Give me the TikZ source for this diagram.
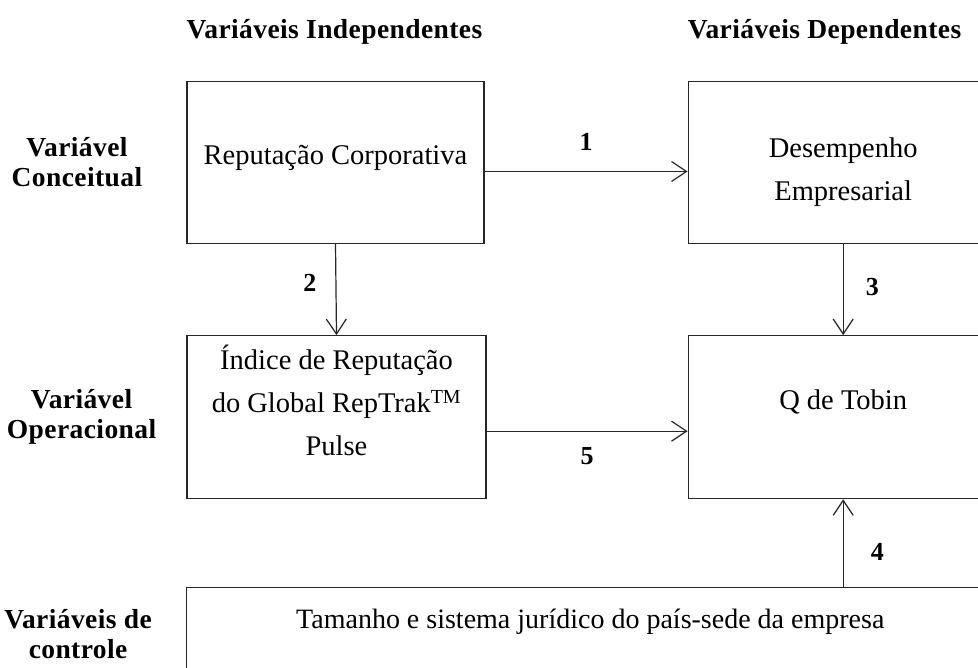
\documentclass[tikz,border=0pt]{standalone}
\usepackage{fontspec}
\setmainfont{Liberation Serif}
\usepackage{xcolor}
\usepackage{tikz}
\tikzstyle{block} = [rectangle, draw=black!85, line width=1.2pt, inner sep=0pt]
\tikzstyle{txt} = [align=center, inner sep=0pt, font=\fontsize{28.5}{43}\selectfont]
\tikzstyle{head} = [font=\bfseries\fontsize{27.5}{30}\selectfont\addfontfeature{LetterSpace=1.5}, align=center, inner sep=0pt]
\tikzstyle{num} = [font=\bfseries\fontsize{26}{31}\selectfont, inner sep=0pt]
\tikzstyle{arr} = [-{Straight Barb[length=15pt,width=20pt]}, draw=black!85, line width=1.2pt]
\usetikzlibrary{arrows.meta}
\usetikzlibrary{positioning}

\begin{document}
\begin{tikzpicture}[x=1pt,y=-1pt]
    \useasboundingbox (0,0) rectangle (978,668);

    \node[block, minimum width=297pt, minimum height=162pt,
      label={[txt, name=reptext, yshift=5pt]center:Reputação Corporativa}] (rep) at (335.5,162.5) {};
    \node[block, minimum width=310pt, minimum height=162pt, right=203pt of rep,
      label={[txt, name=desemptext, yshift=-10pt]center:Desempenho\\Empresarial}] (desemp) {};
    \node[block, minimum width=299pt, minimum height=163pt, below=91pt of rep.south west, anchor=north west,
      label={[txt, name=indicetext, yshift=17pt]center:Índice de Reputação\\do Global RepTrak\textsuperscript{TM}\\Pulse}] (indice) {};
    \node[block, minimum width=310pt, minimum height=163pt, below=91pt of desemp,
      label={[txt, name=tobintext, yshift=15pt]center:Q de Tobin}] (tobin) {};
    \node[block, minimum width=830pt, minimum height=110pt, anchor=north west] (controle) at (186,587) {};
    \node[txt, font=\fontsize{28}{43}\selectfont, anchor=west] (ctrltext) at ([xshift=110pt,yshift=21pt]controle.west) {Tamanho e sistema jurídico do país-sede da empresa};

    % cabecalhos
    \node[head, above right=36pt and 0pt of rep.north west] (indep) {Variáveis Independentes};
    \node[head, above right=36pt and 0pt of desemp.north west] (dep) {Variáveis Dependentes};

    \node[head, left=44pt of rep] (conc) {Variável\\Conceitual};
    \node[head, left=30pt of indice] (oper) {Variável\\Operacional};
    \node[head, left=34pt of controle.west, yshift=9pt] (ctrl) {Variáveis de\\controle};

    % setas
    \draw[arr] ([yshift=-9pt]rep.east) -- node[num, above=20pt] (n1) {1} ([yshift=-9pt]desemp.west);
    \draw[arr] (rep.south) -- node[num, pos=0.43, left=19pt] (n2) {2} (indice.north);
    \draw[arr] (desemp.south) -- node[num, pos=0.47, right=22pt] (n3) {3} (tobin.north);
    \draw[arr] (controle.north -| tobin.south) -- node[num, pos=0.4, right=27pt] (n4) {4} (tobin.south);
    \draw[arr] ([yshift=-14pt]indice.east) -- node[num, below=16pt] (n5) {5} ([yshift=-14pt]tobin.west);
  \end{tikzpicture}
\end{document}
